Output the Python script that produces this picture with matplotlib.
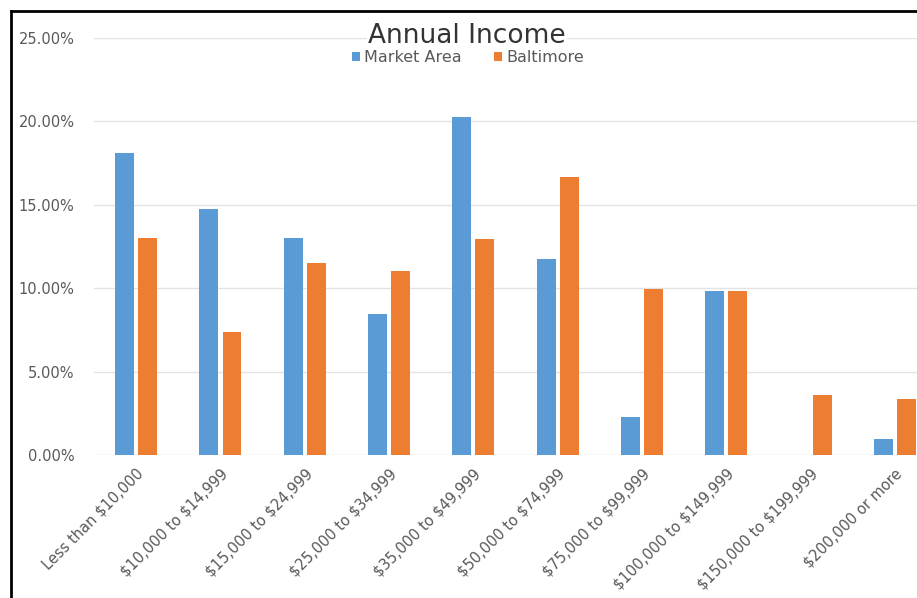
import numpy as np
import matplotlib
matplotlib.use('Agg')
import matplotlib.pyplot as plt
from matplotlib.lines import Line2D
from matplotlib.ticker import FuncFormatter

categories = ['Less than $10,000', '$10,000 to $14,999', '$15,000 to $24,999',
              '$25,000 to $34,999', '$35,000 to $49,999', '$50,000 to $74,999',
              '$75,000 to $99,999', '$100,000 to $149,999', '$150,000 to $199,999',
              '$200,000 or more']
market_area = [18.1, 14.75, 13.0, 8.45, 20.25, 11.75, 2.3, 9.85, 0.0, 0.95]
baltimore = [13.0, 7.4, 11.5, 11.05, 12.95, 16.65, 9.95, 9.85, 3.6, 3.35]

BLUE = '#5B9BD5'
ORANGE = '#ED7D31'
GREY = '#595959'

plt.rcParams['font.family'] = ['DejaVu Sans']
plt.rcParams['text.parse_math'] = False

fig = plt.figure(figsize=(9.17, 5.98), dpi=100)
# axes runs past the right edge, like the cropped screenshot
ax = fig.add_axes([94 / 917, 1 - 455 / 598, 843 / 917, 417 / 598])

x = np.arange(len(categories))
w = 0.225
off = 0.137
ax.bar(x - off, market_area, w, color=BLUE, label='Market Area', zorder=3)
ax.bar(x + off, baltimore, w, color=ORANGE, label='Baltimore', zorder=3)

ax.set_xlim(-0.5, len(categories) - 0.5)
ax.set_ylim(0, 25)
ax.set_yticks(np.arange(0, 26, 5))
ax.yaxis.set_major_formatter(FuncFormatter(lambda v, p: '{:.2f}%'.format(v)))
ax.grid(axis='y', color='#E3E3E3', linewidth=1, zorder=0)
for s in ax.spines.values():
    s.set_visible(False)
ax.tick_params(axis='both', length=0, colors=GREY, labelsize=10.5)
ax.tick_params(axis='y', pad=14)
ax.set_xticks(x)
ax.set_xticklabels(categories, rotation=45, ha='right', rotation_mode='anchor')
ax.tick_params(axis='x', pad=8, labelsize=10.5)

fig.text(467 / 917, 1 - 36 / 598, 'Annual Income', ha='center', va='center',
         fontsize=19, color='#333333',
         bbox=dict(facecolor='white', edgecolor='none', pad=1))
fig.legend(loc='center', bbox_to_anchor=(468 / 917, 1 - 58 / 598), ncol=2,
           frameon=False, fontsize=11.5, handlelength=0.5, handleheight=0.5,
           handletextpad=0.3, columnspacing=2.0, labelcolor=GREY)

# black frame of the screenshot (only left and top edges visible)
fig.add_artist(Line2D([11 / 917, 11 / 917], [0, 1 - 11 / 598],
                      transform=fig.transFigure, color='black', linewidth=2))
fig.add_artist(Line2D([11 / 917, 1], [1 - 11 / 598, 1 - 11 / 598],
                      transform=fig.transFigure, color='black', linewidth=2))

fig.savefig('out.png', dpi=100)
